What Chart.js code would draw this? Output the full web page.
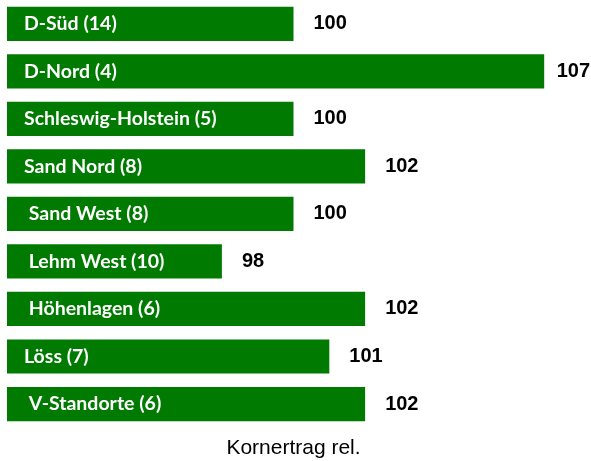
<!DOCTYPE html>
<html>
<head>
<meta charset="utf-8">
<script src="https://cdn.jsdelivr.net/npm/chart.js@4/dist/chart.umd.min.js"></script>
<style>
  html, body { margin: 0; padding: 0; background: #fff; }
  #wrap { width: 591px; height: 461px; }
</style>
</head>
<body>
<div id="wrap"><canvas id="ertrag"></canvas></div>
<script>
var regionen = ["D-Süd (14)", "D-Nord (4)", "Schleswig-Holstein (5)", "Sand Nord (8)", " Sand West (8)",
                " Lehm West (10)", " Höhenlagen (6)", "Löss (7)", " V-Standorte (6)"];
var relErtrag = [100, 107, 100, 102, 100, 98, 102, 101, 102];
var achseMin = 92, achseMax = 108;

// Beschriftungen: Name im Balken, Wert rechts daneben
var beschriftung = {
    id: 'beschriftung',
    afterDatasetsDraw: function(chart) {
        var ctx = chart.ctx;
        var meta = chart.getDatasetMeta(0);
        var links = chart.chartArea.left;
        ctx.save();
        ctx.textBaseline = 'middle';
        meta.data.forEach(function(bar, i) {
            ctx.fillStyle = '#fff';
            ctx.font = 'bold 19.5px Lato';
            ctx.textAlign = 'left';
            ctx.fillText(regionen[i], links + 17, bar.y);
            ctx.fillStyle = '#000';
            ctx.font = 'bold 20px "Liberation Sans"';
            var txt = String(relErtrag[i]);
            var w = ctx.measureText(txt).width;
            var x = Math.min(bar.x + 20, chart.width - w - 1);
            ctx.fillText(txt, x, bar.y);
        });
        ctx.restore();
    }
};

new Chart(document.getElementById('ertrag'), {
    type: 'bar',
    data: {
        labels: regionen,
        datasets: [{
            data: relErtrag,
            backgroundColor: '#007A00',
            barPercentage: 0.72,
            categoryPercentage: 1
        }]
    },
    options: {
        indexAxis: 'y',
        responsive: true,
        maintainAspectRatio: false,
        animation: false,
        layout: { padding: { left: 7, right: 11, top: 0, bottom: 0 } },
        plugins: { legend: { display: false }, tooltip: { enabled: false } },
        scales: {
            x: {
                min: achseMin,
                max: achseMax,
                grid: { display: false },
                border: { display: false },
                ticks: { display: false },
                title: {
                    display: true,
                    text: 'Kornertrag rel.',
                    color: '#000',
                    font: { family: 'Liberation Sans', size: 21 },
                    padding: { top: 0, bottom: 0 }
                }
            },
            y: { display: false }
        }
    },
    plugins: [beschriftung]
});
</script>
</body>
</html>
